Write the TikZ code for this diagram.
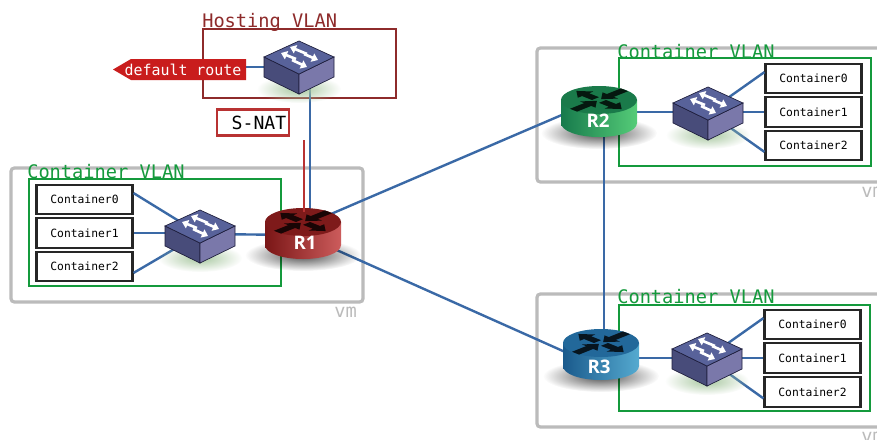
\documentclass[tikz,border=0pt]{standalone}
\usepackage{fontspec}
\setmonofont{DejaVu Sans Mono}
\setsansfont{Open Sans}
\usetikzlibrary{arrows.meta,fadings,calc}
\definecolor{vmgray}{HTML}{BBBBBB}
\definecolor{vlangreen}{HTML}{149A3C}
\definecolor{hostred}{HTML}{8E2B2B}
\definecolor{linkblue}{HTML}{3A69A6}
\definecolor{routered}{HTML}{C91D1D}
\definecolor{snatred}{HTML}{B83232}
\definecolor{swleft}{HTML}{484C7A}
\definecolor{swright}{HTML}{7A78AA}
\definecolor{swtop}{HTML}{58629A}
\definecolor{swedge}{HTML}{1E1E3C}
\definecolor{swshadow}{HTML}{A8C8A0}
\definecolor{raL}{HTML}{7A1616}\definecolor{raR}{HTML}{CC5C5C}\definecolor{raT}{HTML}{7E1A1A}
\definecolor{rbL}{HTML}{177A4C}\definecolor{rbR}{HTML}{55CC78}\definecolor{rbT}{HTML}{1A7A4A}
\definecolor{rcL}{HTML}{1A5A8C}\definecolor{rcR}{HTML}{55AAD0}\definecolor{rcT}{HTML}{22689A}
\tikzfading[name=softedge,inner color=transparent!0,outer color=transparent!100]
\tikzset{
  vmbox/.style={draw=vmgray,line width=2.4pt,rounded corners=2.5pt},
  greenbox/.style={draw=vlangreen,line width=1.6pt},
  hostbox/.style={draw=hostred,line width=1.6pt},
  vlanlabel/.style={font=\ttfamily\fontsize{14}{14}\selectfont,text=vlangreen,inner sep=0pt,anchor=west},
  hostlabel/.style={font=\ttfamily\fontsize{14}{14}\selectfont,text=hostred,inner sep=0pt,anchor=west},
  vmlabel/.style={font=\ttfamily\fontsize{14}{14}\selectfont,text=vmgray,inner sep=0pt,anchor=west},
  cbox/.style={draw=black!85,line width=1.6pt,fill=white,minimum width=72pt,minimum height=22pt,inner sep=0pt,font=\ttfamily\fontsize{8.5}{10}\selectfont},
  link/.style={draw=linkblue,line width=1.8pt},
  rlabel/.style={font=\sffamily\bfseries\fontsize{14}{14}\selectfont,text=white,inner sep=0pt},
  pics/switchpic/.style={code={
    \fill[swshadow,path fading=softedge] (0,32) ellipse [x radius=42,y radius=14];
    \filldraw[draw=swedge,line width=.5pt,fill=swleft] (-35,0) -- (0,17) -- (0,37) -- (-35,20) -- cycle;
    \filldraw[draw=swedge,line width=.5pt,fill=swright] (35,0) -- (0,17) -- (0,37) -- (35,20) -- cycle;
    \filldraw[draw=swedge,line width=.5pt,fill=swtop] (-35,0) -- (0,-16) -- (35,0) -- (0,17) -- cycle;
    \foreach \ax/\ay/\bx/\by in {-3/2/-18/-4, 8/-3/-9/-10, 5/-3/19/3, -7/3/8/10}
      \draw[white,line width=2pt,-{Triangle[width=6.5pt,length=4.5pt]}] (\ax,\ay) -- (\bx,\by);
  }},
  pics/routerpic/.style n args={3}{code={
    \fill[black,opacity=.7,path fading=softedge] (0,33) ellipse [x radius=58,y radius=16];
    \path[left color=#1,right color=#2] (-38,0) -- (-38,23) .. controls (-38,31) and (-21,37) .. (0,37) .. controls (21,37) and (38,31) .. (38,23) -- (38,0) -- cycle;
    \fill[#3] (0,0) ellipse [x radius=38,y radius=14];
    \foreach \t in {45,225}
      \fill[black!80!#3,yscale=.4,rotate=\t] (3,0) -- (16,-11) -- (16,-5) -- (36,-5) -- (36,5) -- (16,5) -- (16,11) -- cycle;
    \foreach \t in {135,315}
      \fill[black!80!#3,yscale=.4,rotate=\t] (5,-5) -- (19,-5) -- (19,-11) -- (32,0) -- (19,11) -- (19,5) -- (5,5) -- cycle;
  }}
}
\begin{document}
\begin{tikzpicture}[x=0.75pt,y=-0.75pt]
\useasboundingbox (0,0) rectangle (877,439);
\clip (0,0) rectangle (877,439);
\fill[white] (0,0) rectangle (877,439);
% vm boxes
\draw[vmbox] (11,168) rectangle (363,302);
\draw[vmbox] (537,48) rectangle (900,182);
\draw[vmbox] (537,294) rectangle (900,427);
\node[vmlabel] at (334,312) {vm};
\node[vmlabel] at (861,192) {vm};
\node[vmlabel] at (861,437) {vm};
% VLAN boxes
\draw[hostbox] (203,29) rectangle (396,98);
\draw[greenbox] (29,179) rectangle (281,286);
\draw[greenbox] (619,58) rectangle (871,166);
\draw[greenbox] (619,305) rectangle (870,411);
\node[hostlabel] at (202,22) {Hosting VLAN};
\node[vlanlabel] at (27,172) {Container VLAN};
\node[vlanlabel] at (617,52) {Container VLAN};
\node[vlanlabel] at (617,297) {Container VLAN};
% containers
\node[cbox] (a0) at (84.5,199.5) {Container0};
\node[cbox] (a1) at (84.5,233) {Container1};
\node[cbox] (a2) at (84.5,266.5) {Container2};
\node[cbox] (b0) at (813.5,78.5) {Container0};
\node[cbox] (b1) at (813.5,112) {Container1};
\node[cbox] (b2) at (813.5,145.5) {Container2};
\node[cbox] (c0) at (812.5,324.5) {Container0};
\node[cbox] (c1) at (812.5,358) {Container1};
\node[cbox] (c2) at (812.5,392) {Container2};
% connection points
\coordinate (sa) at (200,234);
\coordinate (sb) at (708,112);
\coordinate (sc) at (707,358);
\coordinate (hsw) at (299,67);
\coordinate (hswb) at (310,75);
\coordinate (r1a) at (310,235);
\coordinate (r1b) at (303,226);
\coordinate (r1c) at (303,235);
\coordinate (r1s) at (303,235);
\coordinate (r2a) at (599,99);
\coordinate (r2b) at (604,112);
\coordinate (r2s) at (599,112);
\coordinate (r3a) at (601,368);
\coordinate (r3b) at (604,350);
\coordinate (r3s) at (601,358);
% connectors
\draw[link] ([yshift=4.8pt]a0.east) -- (sa);
\draw[link] (a1.east) -- (sa |- a1.east);
\draw[link] ([yshift=-4.8pt]a2.east) -- (sa);
\draw[link] ([yshift=4.8pt]b0.west) -- (sb);
\draw[link] (b1.west) -- (sb);
\draw[link] ([yshift=-4.8pt]b2.west) -- (sb);
\draw[link] ([yshift=4.8pt]c0.west) -- (sc);
\draw[link] (c1.west) -- (sc);
\draw[link] ([yshift=-4.8pt]c2.west) -- (sc);
\draw[link] (sa) -- (r1s);
\draw[link] (sb) -- (r2s);
\draw[link] (sc) -- (r3s);
\draw[link] (hswb) -- (r1a);
\draw[link] (r1b) -- (r2a);
\draw[link] (r1c) -- (r3a);
\draw[link] (r2b) -- (r3b);
% default route
\node[inner sep=0pt,minimum width=85pt,minimum height=15.75pt] (route) at (189,69.5) {};
\draw[link] (route.east |- hsw) -- (hsw);
\fill[routered] (113,69.5) -- (131,59) -- (246,59) -- (246,80) -- (131,80) -- cycle;
\node[font=\ttfamily\fontsize{11.2}{12}\selectfont,text=white,inner sep=0pt] at (183,70) {default route};
% S-NAT
\node[draw=snatred,line width=1.6pt,minimum width=54pt,minimum height=19.5pt,inner sep=0pt,font=\ttfamily\fontsize{13.6}{14}\selectfont] (snat) at (253,122.5) {\hspace*{9pt}S-NAT};
% devices
\pic at (299,57) {switchpic};
\pic at (200,226) {switchpic};
\pic at (708,103) {switchpic};
\pic at (707,349) {switchpic};
\pic at (303,222) {routerpic={raL}{raR}{raT}};
\pic at (599,100) {routerpic={rbL}{rbR}{rbT}};
\pic at (601,343) {routerpic={rcL}{rcR}{rcT}};
\node[rlabel] (r1) at (305,243) {R1};
\node[rlabel] (r2) at (598,121) {R2};
\node[rlabel] (r3) at (599,367) {R3};
% S-NAT mark
\coordinate (natfrom) at (304,140);
\coordinate (natto) at (304,212);
\draw[snatred,line width=1.6pt] (natfrom) -- (natto);
\end{tikzpicture}
\end{document}
